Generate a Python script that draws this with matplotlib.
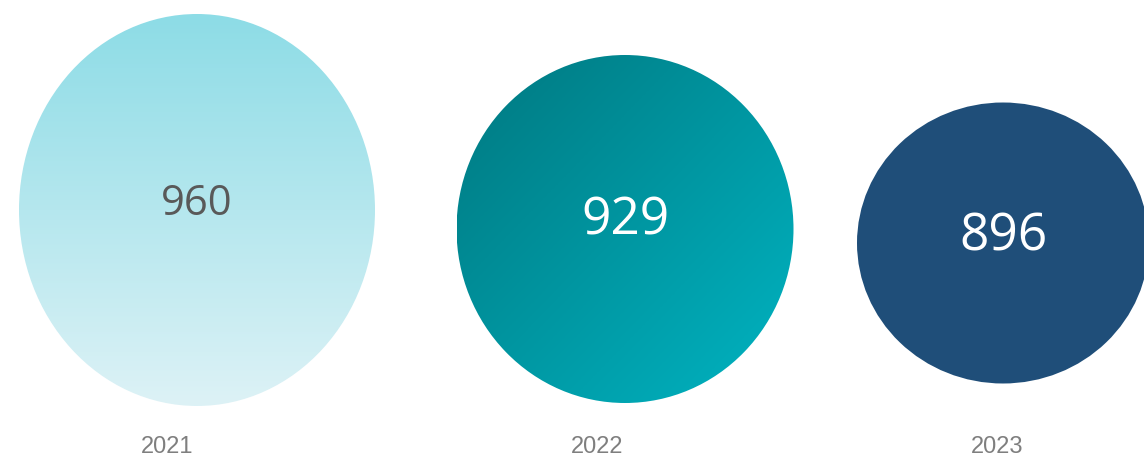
import numpy as np
import matplotlib
matplotlib.use("Agg")
import matplotlib.pyplot as plt
from matplotlib.patches import Ellipse
from matplotlib.colors import LinearSegmentedColormap

# data
years = ["2021", "2022", "2023"]
values = [960, 929, 896]

# layout (pixel units on a 1144x458 canvas)
centers_x = [197, 625, 1003]
centers_y = [210, 229, 243]
widths = [356, 337, 292]
heights = [392, 348, 281]
label_x = [167.5, 597.5, 997.5]

fig = plt.figure(figsize=(11.44, 4.58), dpi=100)
ax = fig.add_axes([0, 0, 1, 1])
ax.set_xlim(0, 1144)
ax.set_ylim(458, 0)
ax.axis("off")

light = LinearSegmentedColormap.from_list("light", ["#8DDCE6", "#DDF2F6"])
teal = LinearSegmentedColormap.from_list("teal", ["#007880", "#00B4C2"])

for i, (cx, cy, w, h) in enumerate(zip(centers_x, centers_y, widths, heights)):
    ext = [cx - w / 2, cx + w / 2, cy + h / 2, cy - h / 2]
    if i == 0:
        # vertical gradient, darker at top
        grad = np.linspace(0, 1, 256).reshape(-1, 1)
        im = ax.imshow(grad, cmap=light, extent=ext, aspect="auto",
                       origin="upper", interpolation="bilinear")
        el = Ellipse((cx, cy), w, h, facecolor="none", edgecolor="none")
        ax.add_patch(el)
        im.set_clip_path(el)
    elif i == 1:
        # diagonal gradient, top-left dark to bottom-right light
        yy, xx = np.mgrid[0:1:256j, 0:1:256j]
        grad = (xx + yy) / 2
        im = ax.imshow(grad, cmap=teal, extent=ext, aspect="auto",
                       origin="upper", interpolation="bilinear")
        el = Ellipse((cx, cy), w, h, facecolor="none", edgecolor="none")
        ax.add_patch(el)
        im.set_clip_path(el)
    else:
        ax.add_patch(Ellipse((cx, cy), w, h, facecolor="#1F4E79",
                             edgecolor="none"))

# value labels
val_colors = ["#595959", "white", "white"]
val_sizes = [30, 37, 37]
val_y = [204, 221, 237]
for i, v in enumerate(values):
    ax.text(centers_x[i], val_y[i], str(v), ha="center", va="center",
            fontsize=val_sizes[i], color=val_colors[i], family="Open Sans")

# year labels
for x, yr in zip(label_x, years):
    ax.text(x, 447, yr, ha="center", va="center", fontsize=17,
            color="#7F7F7F", family="Liberation Sans")

fig.savefig("out.png", dpi=100)
